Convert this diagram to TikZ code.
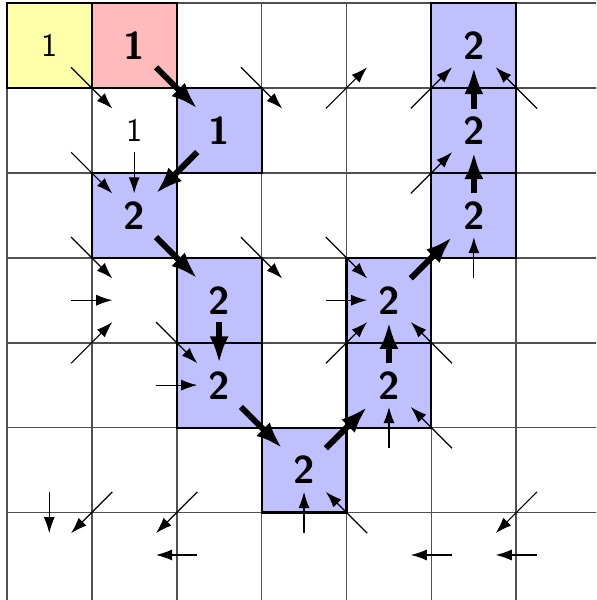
\documentclass[tikz,border=0pt]{standalone}
\usepackage{tikz}
\usetikzlibrary{arrows.meta}
\definecolor{StartYellow}{HTML}{FFFFAA}
\definecolor{GoalPink}{HTML}{FFBBBB}
\definecolor{PathBlue}{HTML}{C0C0FF}
\definecolor{GridGrey}{HTML}{505050}

\begin{document}
\begin{tikzpicture}[x=1cm,y=1cm,
    spot/.style={rectangle,minimum size=5mm,inner sep=0pt,font=\sffamily\fontsize{11}{13}\selectfont},
    big/.style={spot,font=\sffamily\bfseries\fontsize{13}{15}\selectfont},
    pred/.style={-{Latex[length=5.4pt,width=3.7pt]},line width=0.4pt},
    back/.style={-{Latex[length=9pt,width=6.4pt]},line width=2pt}]
  \clip (-0.08,-0.03) rectangle (6.94,7.035);
  % shaded cells
  \fill[StartYellow] (0,6) rectangle (1,7);
  \fill[GoalPink] (1,6) rectangle (2,7);
  \foreach \c/\r in {5/0,2/1,5/1,1/2,5/2,2/3,4/3,2/4,4/4,3/5}
    \fill[PathBlue] (\c,6-\r) rectangle ++(1,1);
  % grid
  \foreach \i in {0,...,6}
    \draw[GridGrey,line width=0.6pt] (\i,-0.2)--(\i,7);
  \foreach \j in {1,...,7}
    \draw[GridGrey,line width=0.6pt] (0,\j)--(7.2,\j);
  \foreach \c/\r in {0/0,1/0,5/0,2/1,5/1,1/2,5/2,2/3,4/3,2/4,4/4,3/5}
    \draw[line width=0.7pt] (\c,6-\r) rectangle ++(1,1);
  % cell centres
  \foreach \c in {0,...,6}
    \foreach \r in {0,...,6}
      \node[spot] (n\c\r) at (\c+0.5,6.5-\r) {};
  % values
  \foreach \c/\r/\t/\s in {0/0/1/spot,1/1/1/spot,1/0/1/big,2/1/1/big,
      5/0/2/big,5/1/2/big,1/2/2/big,5/2/2/big,2/3/2/big,4/3/2/big,
      2/4/2/big,4/4/2/big,3/5/2/big}
    \node[\s] (v\c\r) at (n\c\r) {\t};
  % predecessors
  \foreach \a/\b in {00/11,20/31,01/12,11/12,31/40,41/50,61/50,42/51,
      02/13,03/13,04/13,22/33,13/24,14/24,32/43,33/43,34/43,54/43,53/52,
      05/06,15/06,25/16,26/16,45/44,55/44,36/35,46/35,65/56,56/46,66/56}
    \draw[pred] (n\a)--(n\b);
  % back-tracked path
  \foreach \a/\b in {10/21,21/12,12/23,23/24,24/35,35/44,44/43,43/52,52/51,51/50}
    \draw[back] (n\a)--(n\b);
\end{tikzpicture}
\end{document}
